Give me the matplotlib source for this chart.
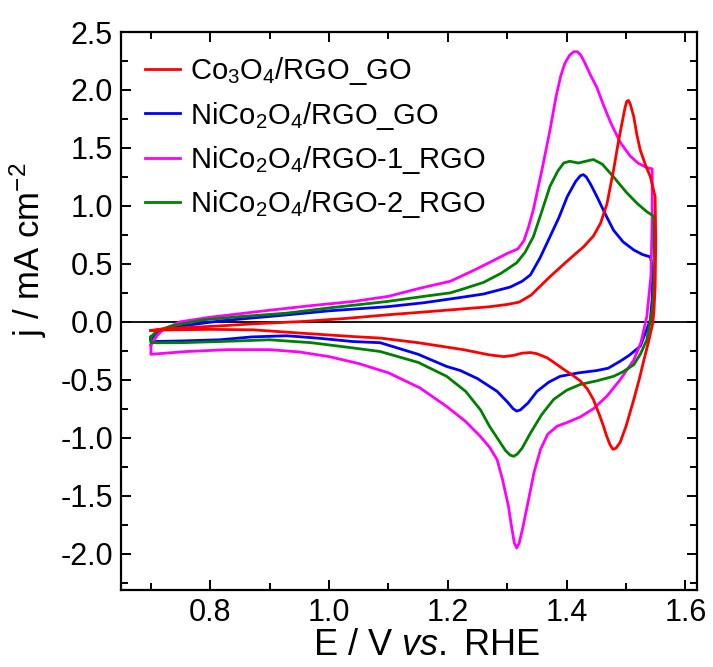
import numpy as np
import matplotlib
matplotlib.use("Agg")
import matplotlib.pyplot as plt
from matplotlib.ticker import MultipleLocator

plt.rcParams['font.family'] = ['Liberation Sans', 'DejaVu Sans']
plt.rcParams['mathtext.fontset'] = 'custom'
plt.rcParams['mathtext.rm'] = 'Liberation Sans'
plt.rcParams['mathtext.it'] = 'Liberation Sans:italic'
plt.rcParams['axes.unicode_minus'] = False

# Co3O4/RGO_GO (red): anodic sweep then cathodic sweep
red_E = [0.700, 0.72, 0.76, 0.816, 0.88, 0.956, 1.03, 1.097, 1.16, 1.221, 1.27, 1.30, 1.32, 1.34,
         1.372, 1.40, 1.429, 1.445, 1.457, 1.468, 1.479, 1.487, 1.493, 1.498, 1.501, 1.504, 1.507, 1.513,
         1.518, 1.524, 1.533, 1.541, 1.549, 1.550, 1.549, 1.547, 1.545,
         1.538, 1.530, 1.522, 1.513, 1.500, 1.490, 1.483, 1.478, 1.473, 1.467, 1.462, 1.455, 1.445,
         1.435, 1.423, 1.41, 1.395, 1.38, 1.367, 1.35, 1.339, 1.325, 1.31, 1.294, 1.27, 1.226, 1.15,
         1.086, 1.04, 0.96, 0.872, 0.80, 0.72, 0.700]
red_j = [-0.075, -0.06, -0.05, -0.035, -0.015, 0.003, 0.03, 0.06, 0.085, 0.11, 0.13, 0.15, 0.17, 0.23,
         0.39, 0.52, 0.65, 0.74, 0.85, 1.02, 1.31, 1.55, 1.71, 1.84, 1.90, 1.91, 1.88, 1.77,
         1.62, 1.48, 1.35, 1.25, 1.08, 0.7, 0.3, 0.1, -0.01,
         -0.17, -0.33, -0.50, -0.67, -0.90, -1.04, -1.09, -1.10, -1.06, -0.98, -0.90, -0.80, -0.67,
         -0.58, -0.51, -0.46, -0.41, -0.355, -0.31, -0.275, -0.265, -0.27, -0.29, -0.30, -0.285, -0.24, -0.18,
         -0.14, -0.127, -0.10, -0.069, -0.065, -0.07, -0.075]

# NiCo2O4/RGO_GO (blue)
blue_E = [0.700, 0.71, 0.73, 0.76, 0.82, 0.929, 1.00, 1.097, 1.16, 1.221, 1.26, 1.305, 1.325, 1.339,
          1.355, 1.372, 1.387, 1.401, 1.415, 1.423, 1.428, 1.433, 1.440, 1.451, 1.465, 1.479, 1.495, 1.513,
          1.528, 1.541, 1.545, 1.544, 1.541,
          1.524, 1.505, 1.49, 1.47, 1.451, 1.42, 1.389, 1.37, 1.35, 1.335, 1.322, 1.316, 1.310, 1.300, 1.283,
          1.25, 1.221, 1.198, 1.15, 1.086, 1.04, 0.98, 0.929, 0.87, 0.816, 0.75, 0.700, 0.700]
blue_j = [-0.15, -0.09, -0.05, -0.03, 0.01, 0.06, 0.095, 0.13, 0.165, 0.21, 0.24, 0.30, 0.35, 0.405,
          0.55, 0.735, 0.90, 1.08, 1.21, 1.26, 1.27, 1.25, 1.19, 1.08, 0.93, 0.79, 0.69, 0.62,
          0.58, 0.56, 0.45, 0.2, 0.017,
          -0.21, -0.29, -0.34, -0.40, -0.42, -0.44, -0.47, -0.52, -0.60, -0.70, -0.76, -0.77, -0.75, -0.69, -0.60,
          -0.49, -0.42, -0.385, -0.28, -0.18, -0.17, -0.14, -0.12, -0.13, -0.155, -0.165, -0.17, -0.15]

# NiCo2O4/RGO-1_RGO (magenta)
mag_E = [0.700, 0.71, 0.72, 0.749, 0.80, 0.90, 0.97, 1.04, 1.10, 1.153, 1.204, 1.221, 1.25, 1.277,
         1.30, 1.318, 1.328, 1.336, 1.344, 1.358, 1.372, 1.382, 1.390, 1.397, 1.405, 1.412, 1.418, 1.424,
         1.431, 1.440, 1.451, 1.462, 1.474, 1.49, 1.507, 1.52, 1.535, 1.544, 1.544, 1.542, 1.535,
         1.525, 1.513, 1.49, 1.468, 1.445, 1.423, 1.40, 1.384, 1.368, 1.356, 1.345, 1.336, 1.326, 1.320,
         1.316, 1.312, 1.307, 1.302, 1.292, 1.283, 1.27, 1.255, 1.23, 1.198, 1.153, 1.10, 1.05, 1.00,
         0.95, 0.90, 0.83, 0.76, 0.700, 0.700]
mag_j = [-0.20, -0.12, -0.07, 0.0, 0.04, 0.10, 0.14, 0.175, 0.22, 0.29, 0.35, 0.39, 0.46, 0.53,
         0.59, 0.63, 0.70, 0.82, 0.97, 1.30, 1.655, 1.94, 2.12, 2.23, 2.30, 2.33, 2.33, 2.30,
         2.23, 2.13, 2.02, 1.87, 1.72, 1.55, 1.43, 1.37, 1.33, 1.32, 0.9, 0.4, 0.046,
         -0.18, -0.33, -0.50, -0.64, -0.75, -0.82, -0.87, -0.90, -0.97, -1.10, -1.30, -1.53, -1.78, -1.91,
         -1.95, -1.91, -1.76, -1.59, -1.36, -1.19, -1.08, -0.99, -0.86, -0.73, -0.57, -0.44, -0.36, -0.30,
         -0.26, -0.24, -0.24, -0.256, -0.28, -0.20]

# NiCo2O4/RGO-2_RGO (green)
grn_E = [0.700, 0.71, 0.732, 0.788, 0.85, 0.929, 1.00, 1.097, 1.16, 1.204, 1.221, 1.26, 1.29, 1.316,
         1.33, 1.344, 1.358, 1.372, 1.385, 1.395, 1.405, 1.42, 1.432, 1.445, 1.46, 1.479, 1.50, 1.519,
         1.535, 1.547, 1.548, 1.546, 1.544,
         1.535, 1.524, 1.513, 1.495, 1.479, 1.45, 1.423, 1.40, 1.378, 1.358, 1.339, 1.325, 1.317, 1.311,
         1.305, 1.297, 1.288, 1.27, 1.255, 1.23, 1.198, 1.15, 1.086, 1.04, 0.97, 0.90, 0.816, 0.75,
         0.700, 0.700]
grn_j = [-0.13, -0.08, -0.04, 0.017, 0.045, 0.075, 0.12, 0.175, 0.22, 0.25, 0.276, 0.34, 0.42, 0.51,
         0.60, 0.735, 0.95, 1.17, 1.30, 1.37, 1.385, 1.37, 1.385, 1.40, 1.36, 1.25, 1.12, 1.02,
         0.95, 0.91, 0.5, 0.25, 0.10,
         -0.155, -0.28, -0.37, -0.43, -0.47, -0.51, -0.54, -0.59, -0.67, -0.80, -0.96, -1.09, -1.14, -1.16,
         -1.15, -1.11, -1.04, -0.90, -0.76, -0.60, -0.47, -0.35, -0.256, -0.225, -0.18, -0.155, -0.17, -0.18,
         -0.18, -0.13]

labels = ['Co$_3$O$_4$/RGO_GO', 'NiCo$_2$O$_4$/RGO_GO',
          'NiCo$_2$O$_4$/RGO-1_RGO', 'NiCo$_2$O$_4$/RGO-2_RGO']
colors = ['#ff0000', '#0000ff', '#ff00ff', '#008000']


def main():
    fig = plt.figure(figsize=(7.13, 6.67), dpi=100)
    ax = fig.add_axes([0.170, 0.116, 0.808, 0.836])

    series = [(red_E, red_j), (blue_E, blue_j), (mag_E, mag_j), (grn_E, grn_j)]
    handles = []
    for (E, j), lab, c in zip(series, labels, colors):
        h, = ax.plot(E, j, color=c, lw=2.0, label=lab, solid_joinstyle='round')
        handles.append(h)
    handles[0].set_zorder(3)

    ax.axhline(0, color='black', lw=1.3, zorder=1)

    ax.set_xlim(0.65, 1.62)
    ax.set_ylim(-2.31, 2.5)
    ax.xaxis.set_major_locator(MultipleLocator(0.2))
    ax.xaxis.set_minor_locator(MultipleLocator(0.1))
    ax.yaxis.set_major_locator(MultipleLocator(0.5))
    ax.yaxis.set_minor_locator(MultipleLocator(0.25))
    ax.tick_params(which='both', direction='in', top=True, right=True, width=1.4)
    ax.tick_params(which='major', length=7.5, labelsize=22, pad=6)
    ax.tick_params(which='minor', length=5)
    for s in ax.spines.values():
        s.set_linewidth(1.6)

    ax.set_xlabel('E / V $\\mathit{vs.}$ RHE', fontsize=26)
    ax.set_ylabel('j / mA cm$^{-2}$', fontsize=25)
    ax.xaxis.set_label_coords(0.53, -0.068)
    ax.yaxis.set_label_coords(-0.125, 0.61)

    ax.legend(handles=handles, loc='upper left', bbox_to_anchor=(0.0, 1.0),
              frameon=False, fontsize=21, handlelength=1.2, handletextpad=0.35,
              labelspacing=0.42, borderaxespad=0.4, borderpad=0.4)

    fig.savefig('out.png', dpi=100)


if __name__ == "__main__":
    main()
